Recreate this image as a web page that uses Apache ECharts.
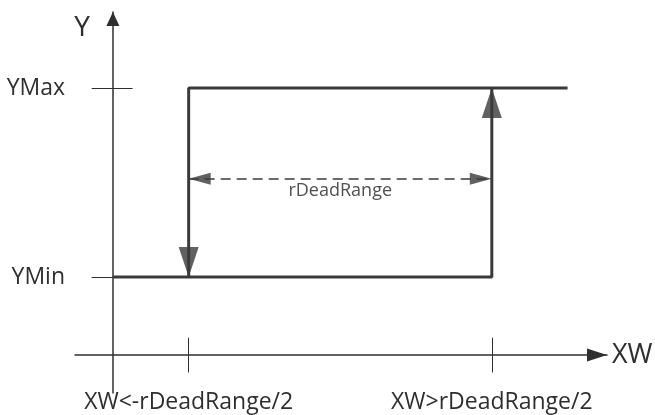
<!DOCTYPE html>
<html>
<head>
<meta charset="utf-8">
<title>Hysteresis</title>
<script src="https://cdn.jsdelivr.net/npm/echarts@6/dist/echarts.min.js"></script>
<style>
  html, body { margin: 0; padding: 0; background: #fff; }
  #container { width: 655px; height: 415px; }
</style>
</head>
<body>
<div id="container"></div>
<script>
// values (arbitrary units, XW axis and Y axis)
const xTicks = [5, 25];
const xTickLabels = ['XW<-rDeadRange/2', 'XW>rDeadRange/2'];
const yTicks = [2.92, 10];
const yTickLabels = ['YMin', 'YMax'];
const risePath = [[0, 2.92], [25, 2.92], [25, 10]];
const fallPath = [[30, 10], [5, 10], [5, 2.92]];
const deadRangeY = 6.6;

const ink = '#2f2f2f';
const font = 'Open Sans';
const tickHalf = 0.65;     // half length of the x ticks (y units)
const yTickLeft = -1.4;    // where the y ticks start (x units)
const yTickRight = [0, 1.3];

var dom = document.getElementById('container');
var myChart = echarts.init(dom, null, { renderer: 'canvas' });

// tick segments
let tickSegs = [];
xTicks.forEach(function (t) {
    tickSegs.push({ coords: [[t, -tickHalf], [t, tickHalf]] });
});
yTicks.forEach(function (t, i) {
    tickSegs.push({ coords: [[yTickLeft, t], [yTickRight[i], t]] });
});

const riseEnd = risePath[risePath.length - 1];
const fallEnd = fallPath[fallPath.length - 1];

var option = {
    animation: false,
    backgroundColor: '#fff',
    grid: {
        left: 75, right: 48, top: 12, bottom: 22,
        containLabel: false,
        outerBoundsMode: 'none'
    },
    xAxis: {
        type: 'value',
        min: -2.5,
        max: 32.6,
        name: 'XW',
        nameLocation: 'end',
        nameGap: 5,
        nameTextStyle: { color: ink, fontSize: 27, fontFamily: font },
        axisLine: {
            onZero: true,
            symbol: ['none', 'triangle'],
            symbolSize: [13, 20],
            symbolOffset: [0, -10],
            lineStyle: { color: ink, width: 1.5 }
        },
        axisTick: { show: false },
        splitLine: { show: false },
        axisLabel: {
            customValues: xTicks,
            formatter: function (v) { return xTickLabels[xTicks.indexOf(v)]; },
            margin: -2,
            color: ink,
            fontSize: 23,
            fontFamily: font
        }
    },
    yAxis: {
        type: 'value',
        min: -1.42,
        max: 12.85,
        name: 'Y',
        nameLocation: 'end',
        nameGap: -16,
        nameTextStyle: {
            color: ink, fontSize: 28, fontFamily: font,
            align: 'right', verticalAlign: 'middle', padding: [0, 23, 0, 0]
        },
        axisLine: {
            onZero: true,
            symbol: ['none', 'triangle'],
            symbolSize: [13, 14],
            symbolOffset: [0, -7],
            lineStyle: { color: ink, width: 1.5 }
        },
        axisTick: { show: false },
        splitLine: { show: false },
        axisLabel: {
            customValues: yTicks,
            formatter: function (v) { return yTickLabels[yTicks.indexOf(v)]; },
            margin: 10,
            color: ink,
            fontSize: 23,
            fontFamily: font
        }
    },
    series: [
        {
            name: 'ticks',
            type: 'lines',
            coordinateSystem: 'cartesian2d',
            data: tickSegs,
            lineStyle: { color: ink, width: 1, opacity: 1 },
            silent: true
        },
        {
            name: 'rising',
            type: 'line',
            data: risePath,
            symbol: 'none',
            lineStyle: { color: '#3a3a3a', width: 3 }
        },
        {
            name: 'falling',
            type: 'line',
            data: fallPath,
            symbol: 'none',
            lineStyle: { color: '#3a3a3a', width: 3 }
        },
        {
            name: 'rDeadRange',
            type: 'lines',
            coordinateSystem: 'cartesian2d',
            data: [{ coords: [[xTicks[0], deadRangeY], [xTicks[1], deadRangeY]] }],
            lineStyle: { color: '#3a3a3a', width: 1.5, type: [10, 6], opacity: 1 },
            label: {
                show: true,
                position: 'insideMiddleBottom',
                distance: 3,
                formatter: 'rDeadRange',
                color: '#505050',
                fontSize: 18,
                fontFamily: font
            },
            silent: true
        },
        {
            name: 'arrowUp',
            type: 'scatter',
            data: [riseEnd],
            symbol: 'triangle',
            symbolSize: [20, 30],
            symbolOffset: [0, 15],
            itemStyle: { color: '#3a3a3a' }
        },
        {
            name: 'arrowDown',
            type: 'scatter',
            data: [fallEnd],
            symbol: 'triangle',
            symbolSize: [20, 30],
            symbolRotate: 180,
            symbolOffset: [0, -15],
            itemStyle: { color: '#3a3a3a' }
        },
        {
            name: 'arrowLeft',
            type: 'scatter',
            data: [[xTicks[0], deadRangeY]],
            symbol: 'triangle',
            symbolSize: [12, 22],
            symbolRotate: 90,
            symbolOffset: [11, 0],
            itemStyle: { color: '#3a3a3a' }
        },
        {
            name: 'arrowRight',
            type: 'scatter',
            data: [[xTicks[1], deadRangeY]],
            symbol: 'triangle',
            symbolSize: [12, 22],
            symbolRotate: -90,
            symbolOffset: [-11, 0],
            itemStyle: { color: '#3a3a3a' }
        }
    ]
};

myChart.setOption(option);
window.addEventListener('resize', myChart.resize);
</script>
</body>
</html>
